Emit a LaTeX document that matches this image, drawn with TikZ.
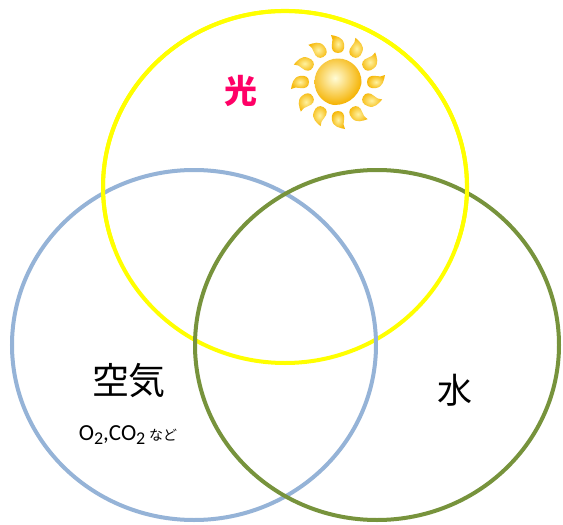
\documentclass[tikz,border=0pt]{standalone}
\usepackage{fontspec}
\newfontfamily\jp{Noto Sans CJK JP}
\newfontfamily\lat{Carlito}
\usetikzlibrary{calc}
\definecolor{ylw}{RGB}{255,255,0}
\definecolor{air}{RGB}{149,179,215}
\definecolor{water}{RGB}{119,147,60}
\definecolor{lightpink}{RGB}{255,0,102}
\definecolor{sunin}{RGB}{255,252,215}
\definecolor{sunout}{RGB}{245,178,0}
\definecolor{raylight}{RGB}{255,242,160}
\definecolor{raydark}{RGB}{246,184,10}
\tikzset{
  ring/.style={line width=4pt},
  label/.style={inner sep=0pt, font=\jp},
  petal/.style={inner color=raylight, outer color=raydark}
}
\begin{document}
\begin{tikzpicture}[x=1pt,y=-1pt]
\useasboundingbox (0,0) rectangle (563,525);
\fill[white] (0,0) rectangle (563,525);
\coordinate (Y) at (285,187);
\coordinate (A) at (194,345);
\coordinate (W) at (377,345);
\coordinate (S) at (338,82);
% circles
\draw[ring, ylw] (Y) ellipse [x radius=182pt, y radius=176pt];
\draw[ring, air] (A) ellipse [x radius=182pt, y radius=175pt];
\draw[ring, water] (W) ellipse [x radius=182pt, y radius=175pt];
\draw[ring, ylw] ($(Y)+(-20:182pt and 176pt)$) arc[start angle=-20, end angle=200, x radius=182pt, y radius=176pt];
% sun rays
\foreach \a in {0,30,...,330}{
  \shade[petal, shift={(S)}, rotate=\a]
    (29pt,0pt) .. controls (29pt,5pt) and (33pt,7pt) .. (38pt,6pt)
    .. controls (41pt,5.5pt) and (44pt,5pt) .. (47pt,7pt)
    .. controls (46pt,2pt) and (45pt,-5pt) .. (38pt,-6pt)
    .. controls (33pt,-7pt) and (29pt,-5pt) .. (29pt,0pt) -- cycle;
}
% sun disc
\begin{scope}
\clip (S) circle (23.5pt);
\shade[inner color=sunin, outer color=sunout] ($(S)+(-3pt,4pt)$) circle (27pt);
\end{scope}
% labels
\node[label, text=lightpink, font=\jp\bfseries\fontsize{33}{33}\selectfont] (hikari) at (241,91) {光};
\node[label, font=\jp\fontsize{37}{37}\selectfont] (kuuki) at (129,381) {空気};
\node[label, font=\jp\fontsize{35}{35}\selectfont] (mizu) at (455,390) {水};
\node[label, anchor=base, font=\lat\fontsize{23}{23}\selectfont] (gas) at (128,440)
  {O\raisebox{-4.5pt}{\fontsize{18}{18}\selectfont 2},CO\raisebox{-4.5pt}{\fontsize{18}{18}\selectfont 2}\,{\jp\fontsize{14}{14}\selectfont など}};
\end{tikzpicture}
\end{document}
